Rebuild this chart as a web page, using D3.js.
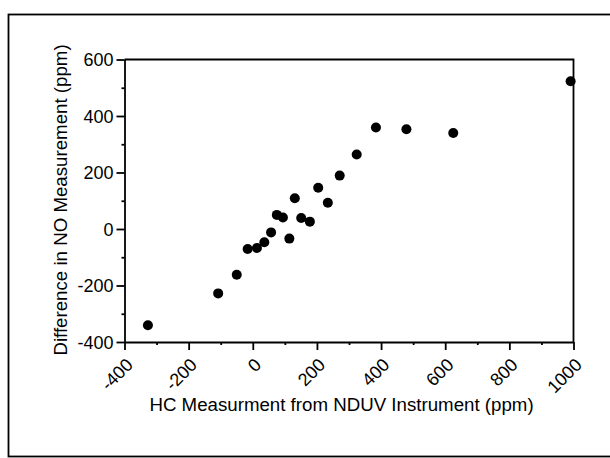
<!DOCTYPE html>
<html>
<head>
<meta charset="utf-8">
<script src="https://cdn.jsdelivr.net/npm/d3@7"></script>
<style>
  body { margin: 0; background: #fff; }
  svg text { font-family: "Liberation Sans", Arial, Helvetica, sans-serif; fill: #000; }
</style>
</head>
<body>
<svg id="chart" width="610" height="458"></svg>
<script>
// HC reading (ppm) vs difference in NO reading (ppm)
var hcValues = [-327, -108, -50, -16, 13, 36, 57, 75, 94, 114, 131, 151, 178, 204, 234, 271, 324, 384, 479, 625, 991];
var noDiffValues = [-341, -228, -162, -71, -67, -47, -12, 50, 41, -34, 109, 39, 26, 146, 93, 189, 264, 359, 353, 340, 523];
var xTicks = [-400, -200, 0, 200, 400, 600, 800, 1000];
var yTicks = [-400, -200, 0, 200, 400, 600];
var xMinor = [-300, -100, 100, 300, 500, 700, 900];
var yMinor = [-300, -100, 100, 300, 500];

var svg = d3.select("#chart");

// page frame from the scan
svg.append("rect")
  .attr("x", 8.5).attr("y", 14.5)
  .attr("width", 700).attr("height", 442)
  .attr("fill", "none").attr("stroke", "#000").attr("stroke-width", 1.8);

var plotL = 124.5, plotR = 573.5, plotT = 59.5, plotB = 342;

var x = d3.scaleLinear().domain([-400, 1000]).range([plotL, plotR]);
var y = d3.scaleLinear().domain([-400, 600]).range([plotB, plotT]);

// plot box (top + right sides)
svg.append("path")
  .attr("d", "M" + plotL + "," + plotT + "H" + plotR + "V" + plotB)
  .attr("fill", "none").attr("stroke", "#000").attr("stroke-width", 1.8);

// minor ticks
svg.append("g").attr("transform", "translate(0," + plotB + ")")
  .call(d3.axisBottom(x).tickValues(xMinor).tickSize(3).tickFormat(""))
  .call(g => g.select(".domain").remove());
svg.append("g").attr("transform", "translate(" + plotL + ",0)")
  .call(d3.axisLeft(y).tickValues(yMinor).tickSize(3).tickFormat(""))
  .call(g => g.select(".domain").remove());

var xAxis = svg.append("g").attr("transform", "translate(0," + plotB + ")")
  .call(d3.axisBottom(x).tickValues(xTicks).tickSize(8).tickSizeOuter(0).tickFormat(d => String(d)));
xAxis.selectAll("text")
  .attr("x", 0).attr("y", 0).attr("dy", 0)
  .attr("text-anchor", "end")
  .attr("transform", "translate(9,24) rotate(-45)")
  .style("font-size", "18px");

var yAxis = svg.append("g").attr("transform", "translate(" + plotL + ",0)")
  .call(d3.axisLeft(y).tickValues(yTicks).tickSize(8).tickSizeOuter(0).tickFormat(d => String(d)));
yAxis.selectAll("text")
  .attr("x", -11)
  .attr("dy", "0.36em")
  .style("font-size", "18px");

svg.selectAll(".domain, .tick line").attr("stroke", "#000").attr("stroke-width", 1.8);

// dots
svg.append("g").selectAll("circle")
  .data(hcValues)
  .join("circle")
  .attr("cx", d => x(d))
  .attr("cy", (d, i) => y(noDiffValues[i]))
  .attr("r", 5)
  .attr("fill", "#000");

// axis titles
svg.append("text")
  .attr("x", 341.5).attr("y", 411)
  .attr("text-anchor", "middle")
  .style("font-size", "18.7px")
  .text("HC Measurment from NDUV Instrument (ppm)");

svg.append("text")
  .attr("transform", "translate(67,200) rotate(-90)")
  .attr("text-anchor", "middle")
  .style("font-size", "18.7px")
  .text("Difference in NO Measurement (ppm)");
</script>
</body>
</html>
